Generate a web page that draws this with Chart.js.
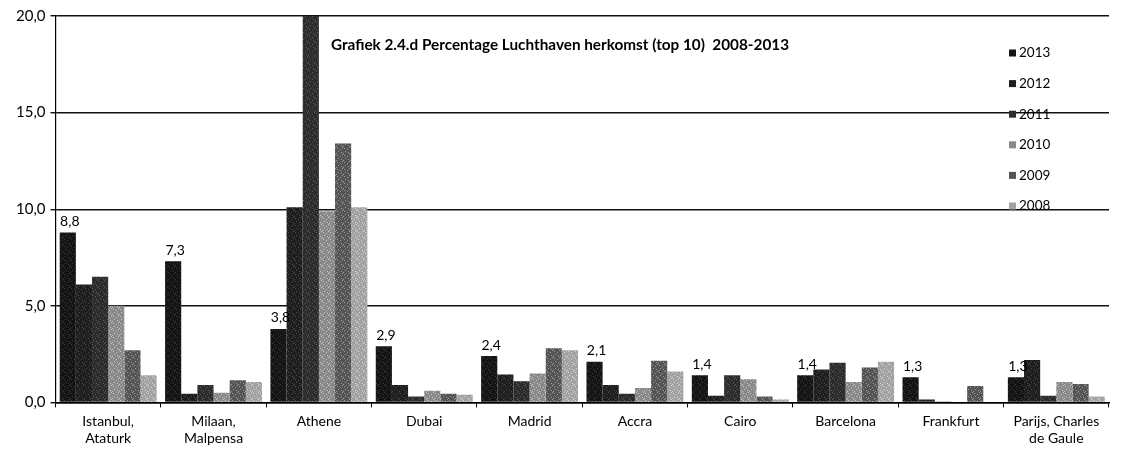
<!DOCTYPE html>
<html>
<head>
<meta charset="utf-8">
<script src="https://cdn.jsdelivr.net/npm/chart.js@4"></script>
<style>
  html, body { margin: 0; padding: 0; background: #fff; }
  #wrap { width: 1123px; height: 461px; }
</style>
</head>
<body>
<div id="wrap"><canvas id="chart" width="1123" height="461"></canvas></div>
<script>
// luchthavens (categorieen)
const airports = [['Istanbul,', 'Ataturk'], ['Milaan,', 'Malpensa'], 'Athene', 'Dubai', 'Madrid',
    'Accra', 'Cairo', 'Barcelona', 'Frankfurt', ['Parijs, Charles', 'de Gaule']];

const years = ['2013', '2012', '2011', '2010', '2009', '2008'];

const v2013 = [8.8, 7.3, 3.8, 2.9, 2.4, 2.1, 1.4, 1.4, 1.3, 1.3];
const v2012 = [6.1, 0.45, 10.1, 0.9, 1.45, 0.9, 0.35, 1.7, 0.15, 2.2];
const v2011 = [6.5, 0.9, 20.0, 0.3, 1.1, 0.45, 1.4, 2.05, 0.05, 0.35];
const v2010 = [5.0, 0.5, 9.9, 0.6, 1.5, 0.75, 1.2, 1.05, 0.0, 1.05];
const v2009 = [2.7, 1.15, 13.4, 0.45, 2.8, 2.15, 0.3, 1.8, 0.85, 0.95];
const v2008 = [1.4, 1.05, 10.1, 0.4, 2.7, 1.6, 0.15, 2.1, 0.0, 0.3];

const yTicks = [0, 5, 10, 15, 20];

const chartTitle = 'Grafiek 2.4.d Percentage Luchthaven herkomst (top 10)  2008-2013';

const FONT = 'Lato, "DejaVu Sans", sans-serif';

// grijstinten van de scan
const baseColors = ['#141414', '#1e1e1e', '#2c2c2c', '#8a8a8a', '#555555', '#a2a2a2'];
const dotColors  = ['#3a3a3a', '#4a4a4a', '#5a5a5a', '#c8c8c8', '#9a9a9a', '#d6d6d6'];

// vast spikkelpatroon (geen random)
function makePattern(base, dot) {
    const c = document.createElement('canvas');
    c.width = 7; c.height = 7;
    const ctx = c.getContext('2d');
    ctx.fillStyle = base;
    ctx.fillRect(0, 0, 7, 7);
    ctx.fillStyle = dot;
    [[1, 1], [4, 2], [2, 4], [5, 5], [0, 6], [6, 0]].forEach(function(p) {
        ctx.fillRect(p[0], p[1], 1, 1);
    });
    return ctx.createPattern(c, 'repeat');
}

const allValues = [v2013, v2012, v2011, v2010, v2009, v2008];

const datasets = years.map(function(y, i) {
    return {
        label: y,
        data: allValues[i],
        backgroundColor: makePattern(baseColors[i], dotColors[i]),
        legendColor: baseColors[i],
        borderWidth: 0,
        categoryPercentage: 0.92,
        barPercentage: 1.0
    };
});

function fmt(v) {
    return v.toFixed(1).replace('.', ',');
}

// titel, legenda en waardelabels
const extras = {
    id: 'extras',
    afterDatasetsDraw(chart) {
        const ctx = chart.ctx;
        ctx.save();

        // labels boven 2013
        const meta = chart.getDatasetMeta(0);
        ctx.font = '14px ' + FONT;
        ctx.fillStyle = '#000';
        ctx.textAlign = 'center';
        ctx.textBaseline = 'bottom';
        meta.data.forEach(function(bar, idx) {
            ctx.fillText(fmt(v2013[idx]), bar.x + 2, bar.y - 4);
        });

        // titel
        ctx.font = 'bold 15.3px ' + FONT;
        ctx.textAlign = 'left';
        ctx.textBaseline = 'middle';
        ctx.fillText(chartTitle, 331, 45);

        // legenda
        ctx.font = '13.5px ' + FONT;
        chart.data.datasets.forEach(function(ds, i) {
            const y = 53 + i * 30.6;
            ctx.fillStyle = ds.legendColor;
            ctx.fillRect(1009, y - 3.5, 7, 7);
            ctx.fillStyle = '#000';
            ctx.fillText(ds.label, 1019, y);
        });
        ctx.restore();
    }
};

new Chart(document.getElementById('chart'), {
    type: 'bar',
    data: {
        labels: airports,
        datasets: datasets
    },
    plugins: [extras],
    options: {
        responsive: false,
        animation: false,
        layout: { padding: { top: 16, right: 14, left: 11, bottom: 8 } },
        plugins: {
            legend: { display: false },
            title: { display: false },
            tooltip: { enabled: false }
        },
        scales: {
            x: {
                grid: {
                    offset: true,
                    drawOnChartArea: false,
                    drawTicks: true,
                    tickLength: 5,
                    color: '#000'
                },
                border: { color: '#000', width: 1.5 },
                ticks: {
                    color: '#000',
                    font: { family: FONT, size: 14 },
                    maxRotation: 0,
                    autoSkip: false,
                    padding: 6
                }
            },
            y: {
                min: 0,
                max: 20,
                afterBuildTicks(axis) {
                    axis.ticks = yTicks.map(function(v) { return { value: v }; });
                },
                grid: {
                    color: '#111',
                    lineWidth: 1.4,
                    tickLength: 5
                },
                border: { color: '#000', width: 1.2 },
                ticks: {
                    color: '#000',
                    font: { family: FONT, size: 15 },
                    padding: 5,
                    callback: function(v) { return fmt(v); }
                }
            }
        }
    }
});
</script>
</body>
</html>
